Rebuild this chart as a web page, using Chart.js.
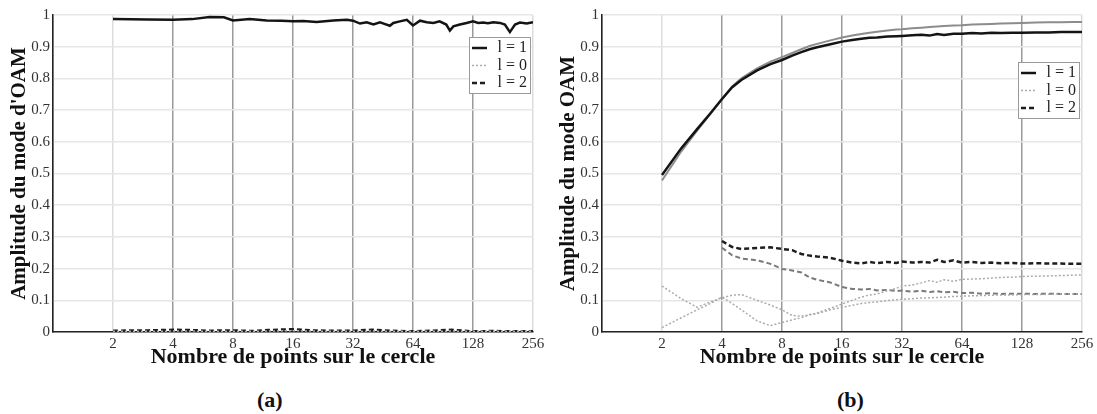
<!DOCTYPE html>
<html>
<head>
<meta charset="utf-8">
<script src="https://cdn.jsdelivr.net/npm/chart.js@4/dist/chart.umd.min.js"></script>
<style>
  body { margin: 0; background: #fff; width: 1097px; height: 414px; position: relative; overflow: hidden; font-family: 'Liberation Serif', serif; }
  canvas { position: absolute; top: 0; }
  .cap { position: absolute; top: 389px; font-weight: bold; font-size: 22px; line-height: 22px; color: #111; }
</style>
</head>
<body>
<canvas id="chartA" width="548" height="380" style="left:0"></canvas>
<canvas id="chartB" width="548" height="380" style="left:549px"></canvas>
<div class="cap" style="left:257px">(a)</div>
<div class="cap" style="left:837px">(b)</div>
<script>
// x axis: number of points on the circle (log2)
var xTicks = [1, 2, 4, 8, 16, 32, 64, 128, 256];
var xTitle = 'Nombre de points sur le cercle';

// (a) l = 1 amplitude
var aL1x = [2, 3, 4, 5, 6.1, 7.2, 8, 9.7, 11.8, 14, 16, 18, 21, 25.5, 29.8, 32, 34.7, 37.5, 40.5, 43.7, 46, 49, 51, 55, 59.6, 64, 69.4, 75, 81, 87, 94, 98, 102, 110, 119, 128, 136, 144, 152, 162, 175, 185, 196, 208, 220, 238, 256];
var aL1  = [0.987, 0.986, 0.985, 0.987, 0.994, 0.993, 0.983, 0.987, 0.983, 0.982, 0.980, 0.981, 0.978, 0.983, 0.985, 0.982, 0.973, 0.977, 0.970, 0.977, 0.972, 0.966, 0.975, 0.980, 0.985, 0.967, 0.982, 0.977, 0.975, 0.980, 0.970, 0.951, 0.964, 0.970, 0.975, 0.980, 0.975, 0.976, 0.974, 0.977, 0.975, 0.970, 0.946, 0.970, 0.976, 0.973, 0.977];
// (a) l = 0 and l = 2, both close to zero
var aLowX = [2, 3, 4, 5, 6, 8, 10, 12, 16, 20, 24, 32, 40, 50, 64, 80, 100, 128, 160, 200, 256];
var aL2   = [0.004, 0.005, 0.007, 0.006, 0.004, 0.005, 0.003, 0.006, 0.009, 0.005, 0.004, 0.004, 0.007, 0.004, 0.002, 0.004, 0.007, 0.002, 0.003, 0.002, 0.002];
var aL0   = [0.002, 0.002, 0.003, 0.003, 0.002, 0.002, 0.002, 0.003, 0.004, 0.003, 0.002, 0.002, 0.003, 0.002, 0.002, 0.002, 0.003, 0.002, 0.002, 0.002, 0.002];

// (b) shared x positions
var bX = [2, 2.5, 3, 3.5, 4, 4.5, 5, 6, 7, 8, 9, 10, 11, 12, 14, 16, 18, 20, 22, 24, 27, 30, 32, 36, 40, 44, 48, 52, 58, 64, 72, 80, 90, 100, 115, 128, 150, 175, 200, 230, 256];
var bL1      = [0.495, 0.58, 0.64, 0.69, 0.735, 0.772, 0.795, 0.825, 0.845, 0.858, 0.872, 0.883, 0.892, 0.898, 0.908, 0.916, 0.921, 0.925, 0.928, 0.929, 0.932, 0.933, 0.934, 0.936, 0.938, 0.935, 0.940, 0.937, 0.941, 0.941, 0.943, 0.942, 0.944, 0.943, 0.944, 0.944, 0.945, 0.945, 0.946, 0.946, 0.946];
var bL1grey  = [0.478, 0.57, 0.635, 0.688, 0.735, 0.775, 0.8, 0.832, 0.853, 0.867, 0.88, 0.892, 0.902, 0.909, 0.92, 0.929, 0.935, 0.94, 0.944, 0.947, 0.951, 0.954, 0.955, 0.958, 0.96, 0.962, 0.964, 0.965, 0.967, 0.968, 0.97, 0.971, 0.972, 0.973, 0.974, 0.975, 0.976, 0.977, 0.977, 0.978, 0.978];
var bL2      = [null, null, null, null, 0.287, 0.268, 0.262, 0.265, 0.267, 0.262, 0.258, 0.246, 0.241, 0.238, 0.234, 0.225, 0.219, 0.216, 0.221, 0.217, 0.221, 0.218, 0.222, 0.219, 0.221, 0.219, 0.228, 0.221, 0.226, 0.219, 0.221, 0.218, 0.219, 0.217, 0.218, 0.216, 0.217, 0.216, 0.216, 0.215, 0.215];
var bL2grey  = [null, null, null, null, 0.266, 0.242, 0.232, 0.226, 0.215, 0.199, 0.194, 0.188, 0.172, 0.165, 0.156, 0.142, 0.136, 0.134, 0.136, 0.131, 0.133, 0.129, 0.131, 0.127, 0.13, 0.126, 0.129, 0.125, 0.127, 0.123, 0.124, 0.121, 0.122, 0.12, 0.121, 0.121, 0.12, 0.121, 0.12, 0.12, 0.12];
var bL0      = [0.014, 0.045, 0.07, 0.09, 0.11, 0.09, 0.07, 0.035, 0.02, 0.03, 0.038, 0.045, 0.055, 0.06, 0.075, 0.088, 0.1, 0.11, 0.117, 0.12, 0.13, 0.138, 0.145, 0.148, 0.155, 0.162, 0.157, 0.165, 0.16, 0.166, 0.167, 0.168, 0.17, 0.172, 0.173, 0.175, 0.176, 0.177, 0.178, 0.179, 0.18];
var bL0grey  = [0.145, 0.105, 0.078, 0.095, 0.108, 0.116, 0.118, 0.1, 0.085, 0.07, 0.052, 0.05, 0.054, 0.058, 0.07, 0.078, 0.084, 0.09, 0.093, 0.095, 0.099, 0.102, 0.103, 0.105, 0.107, 0.108, 0.109, 0.11, 0.112, 0.113, 0.114, 0.115, 0.116, 0.117, 0.117, 0.118, 0.118, 0.119, 0.12, 0.12, 0.12];

var FONT = "'Liberation Serif', serif";

function pts(xs, ys) {
  return xs.map(function (x, i) { return { x: x, y: ys[i] }; });
}

var styles = {
  solid:     { borderColor: '#141414', borderWidth: 2.5, borderDash: [] },
  solidGrey: { borderColor: '#8c8c8c', borderWidth: 2, borderDash: [] },
  dashed:    { borderColor: '#1e1e1e', borderWidth: 2.5, borderDash: [5, 3] },
  dashGrey:  { borderColor: '#7a7a7a', borderWidth: 2, borderDash: [5, 3] },
  dotted:    { borderColor: '#ababab', borderWidth: 1.5, borderDash: [2, 2] }
};

function ds(label, data, style) {
  var s = styles[style];
  return {
    label: label, data: data,
    borderColor: s.borderColor, borderWidth: s.borderWidth, borderDash: s.borderDash,
    pointRadius: 0, tension: 0, fill: false, spanGaps: false
  };
}

// legend box drawn inside the plot, like the original figure
var boxLegend = {
  id: 'boxLegend',
  afterDatasetsDraw: function (chart, args, opts) {
    var ctx = chart.ctx, a = chart.chartArea;
    var w = 61, h = 56;
    var x = a.right - opts.right - w, y = a.top + opts.top;
    ctx.save();
    ctx.fillStyle = '#fff';
    ctx.fillRect(x, y, w, h);
    ctx.strokeStyle = '#9a9a9a';
    ctx.lineWidth = 1;
    ctx.strokeRect(x + 0.5, y + 0.5, w, h);
    ctx.font = '16px ' + FONT;
    ctx.textBaseline = 'middle';
    ctx.textAlign = 'right';
    opts.items.forEach(function (idx, r) {
      var d = chart.data.datasets[idx];
      var cy = y + 11 + r * 17.5;
      ctx.beginPath();
      ctx.setLineDash(d.borderDash);
      ctx.strokeStyle = d.borderColor;
      ctx.lineWidth = d.borderWidth;
      ctx.moveTo(x + 3, cy);
      ctx.lineTo(x + 18, cy);
      ctx.stroke();
      ctx.setLineDash([]);
      ctx.fillStyle = '#222';
      ctx.fillText(d.label, x + w - 3, cy);
    });
    ctx.restore();
  }
};

function makeChart(id, datasets, yTitle, legendTop) {
  return new Chart(document.getElementById(id), {
    type: 'line',
    data: { datasets: datasets },
    plugins: [boxLegend],
    options: {
      responsive: false,
      animation: false,
      layout: { padding: { left: 0, right: 15, top: 15, bottom: 0 } },
      plugins: {
        legend: { display: false },
        tooltip: { enabled: false },
        boxLegend: { items: [0, 1, 2], right: 3, top: legendTop }
      },
      scales: {
        x: {
          type: 'logarithmic', min: 1, max: 256,
          afterBuildTicks: function (s) { s.ticks = xTicks.map(function (v) { return { value: v }; }); },
          afterFit: function (s) { s.height = 48; },
          ticks: {
            autoSkip: false, maxRotation: 0, padding: 3, color: '#333',
            font: { family: FONT, size: 15 },
            callback: function (v) { return v === 1 ? '' : String(v); }
          },
          grid: {
            drawTicks: false, lineWidth: 1.5,
            color: function (c) {
              var v = c.tick ? c.tick.value : 0;
              return (v === 2 || v === 256) ? '#dcdcdc' : '#9a9a9a';
            }
          },
          border: { color: '#222', width: 1.5 },
          title: {
            display: true, text: xTitle, color: '#111',
            font: { family: FONT, size: 22, weight: 'bold' },
            padding: { top: 0, bottom: 9 }
          }
        },
        y: {
          min: 0, max: 1,
          afterFit: function (s) { s.width = 53; },
          ticks: {
            stepSize: 0.1, padding: 3, color: '#333', font: { family: FONT, size: 15 },
            callback: function (v) { return String(Math.round(v * 10) / 10); }
          },
          grid: { drawTicks: false, lineWidth: 1.5, color: '#e6e6e6' },
          border: { color: '#222', width: 1.5 },
          title: {
            display: true, text: yTitle, color: '#111',
            font: { family: FONT, size: 21, weight: 'bold' },
            padding: { top: 7, bottom: 0 }
          }
        }
      }
    }
  });
}

makeChart('chartA', [
  ds('l = 1', pts(aL1x, aL1), 'solid'),
  ds('l = 0', pts(aLowX, aL0), 'dotted'),
  ds('l = 2', pts(aLowX, aL2), 'dashed')
], "Amplitude du mode d'OAM", 22);

makeChart('chartB', [
  ds('l = 1', pts(bX, bL1), 'solid'),
  ds('l = 0', pts(bX, bL0), 'dotted'),
  ds('l = 2', pts(bX, bL2), 'dashed'),
  ds('l = 1', pts(bX, bL1grey), 'solidGrey'),
  ds('l = 0', pts(bX, bL0grey), 'dotted'),
  ds('l = 2', pts(bX, bL2grey), 'dashGrey')
], 'Amplitude du mode OAM', 47);
</script>
</body>
</html>
